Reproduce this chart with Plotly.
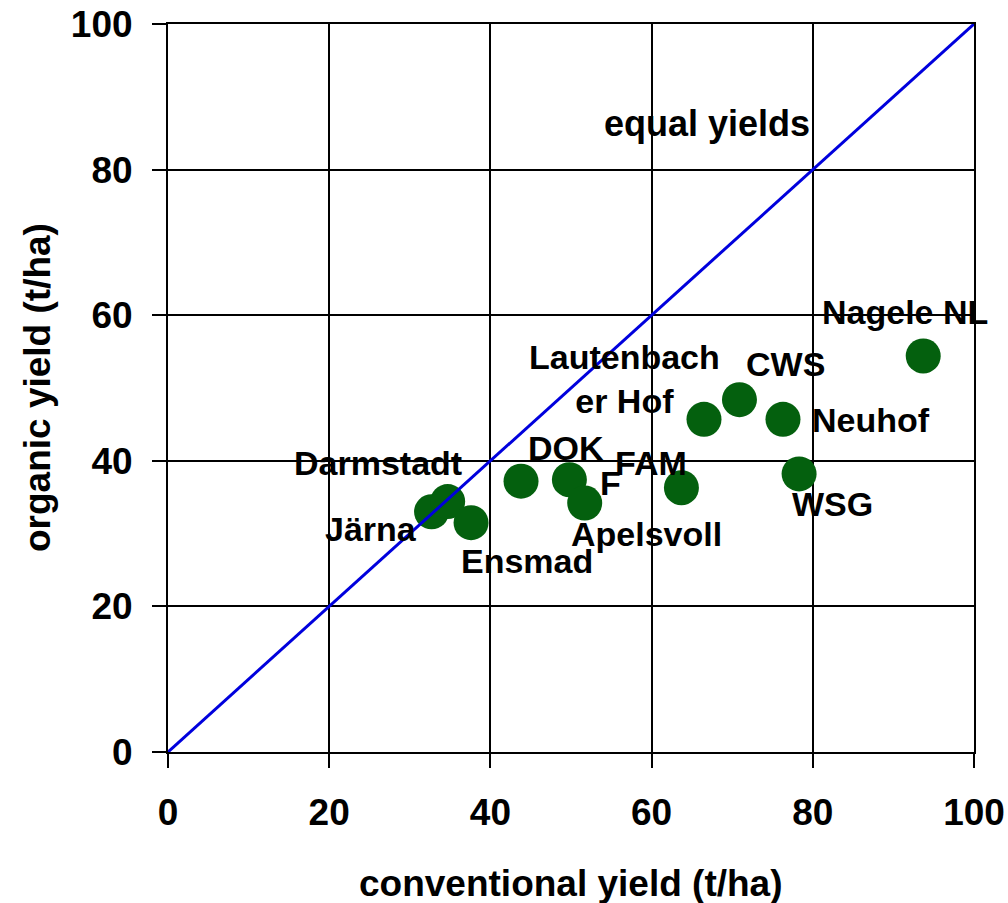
import plotly.graph_objects as go

# ---- data ----
sites = ["Järna", "Darmstadt", "Ensmad", "DOK", "F", "Apelsvoll", "FAM",
         "Lautenbach<br>er Hof", "CWS", "Neuhof", "WSG", "Nagele NL"]
conventional_yield = [32.7, 34.7, 37.6, 43.8, 49.8, 51.7, 63.7, 66.5, 70.9, 76.3, 78.3, 93.7]
organic_yield = [33.0, 34.4, 31.5, 37.2, 37.4, 34.2, 36.3, 45.7, 48.4, 45.7, 38.2, 54.4]

equal_x = [0, 100]
equal_y = [0, 100]

tick_vals = [0, 20, 40, 60, 80, 100]
tick_text = ["0", "20", "40", "60", "80", "100"]

# ---- label placement (pixel offsets from each point) ----
label_dx = [-61, -70, 56, 45, 41, 62, -30, -79, 46, 88, 33, -18]
label_dy = [-17, 39, -38, 33, -3, -31, 25, 40, 36, -1, -30, 44]

FONT = "Liberation Sans, Arial, sans-serif"

fig = go.Figure()

fig.add_trace(go.Scatter(
    x=conventional_yield, y=organic_yield, mode="markers",
    marker=dict(size=35, color="#04600E", line=dict(width=0)),
    showlegend=False, hoverinfo="skip", cliponaxis=False,
))

fig.add_trace(go.Scatter(
    x=equal_x, y=equal_y, mode="lines",
    line=dict(color="#0000DD", width=3),
    showlegend=False, hoverinfo="skip",
))

annotations = []
for name, xv, yv, dx, dy in zip(sites, conventional_yield, organic_yield, label_dx, label_dy):
    annotations.append(dict(
        x=xv, y=yv, xref="x", yref="y", text=name, showarrow=False,
        xshift=dx, yshift=dy, xanchor="center", yanchor="middle",
        font=dict(family=FONT, size=34, color="black", weight="bold"),
    ))

annotations.append(dict(
    x=66.9, y=86.3, xref="x", yref="y", text="equal yields", showarrow=False,
    xanchor="center", yanchor="middle",
    font=dict(family=FONT, size=36, color="black", weight="bold"),
))

annotations.append(dict(
    x=0.5, y=-0.1813, xref="paper", yref="paper", text="conventional yield (t/ha)",
    showarrow=False, xanchor="center", yanchor="middle",
    font=dict(family=FONT, size=37, color="black", weight="bold"),
))
annotations.append(dict(
    x=-0.1625, y=0.5, xref="paper", yref="paper", text="organic yield (t/ha)",
    showarrow=False, xanchor="center", yanchor="middle", textangle=-90,
    font=dict(family=FONT, size=37, color="black", weight="bold"),
))

axis_common = dict(
    range=[0, 100], tickmode="array", tickvals=tick_vals, ticktext=tick_text,
    showgrid=True, gridcolor="black", gridwidth=1.5,
    showline=True, linecolor="black", linewidth=2, mirror=True,
    ticks="outside", ticklen=14, tickwidth=2, tickcolor="black",
    zeroline=False,
    tickfont=dict(family=FONT, size=37, color="black", weight="bold"),
    fixedrange=True,
)

fig.update_layout(
    width=1008, height=903,
    margin=dict(l=168, r=34, t=24, b=151, autoexpand=False),
    plot_bgcolor="white", paper_bgcolor="white",
    xaxis=dict(**axis_common, ticklabelstandoff=13),
    yaxis=dict(**axis_common, ticklabelstandoff=12),
    annotations=annotations,
    showlegend=False,
)

fig.write_html("out.html")
